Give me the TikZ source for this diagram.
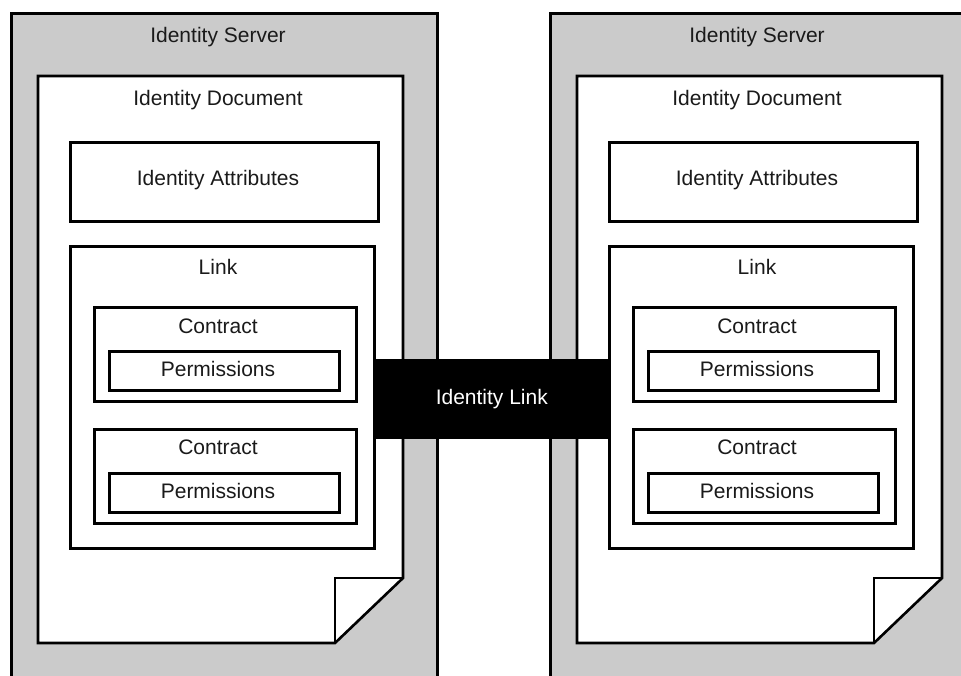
\documentclass[tikz,border=0pt]{standalone}
\usepackage{fontspec}
\setmainfont{Liberation Sans}
\usetikzlibrary{positioning, calc}
\definecolor{idsGray}{HTML}{CBCBCB}
\definecolor{idsText}{HTML}{1A1A1A}

\begin{document}
\begin{tikzpicture}[
    x=1pt, y=-1pt,
    srv/.style={
        draw=black, line width=2.6pt, fill=idsGray, anchor=north west,
        inner sep=0pt, minimum width=426pt, minimum height=700pt
    },
    box/.style={
        draw=black, line width=2.6pt, fill=white, anchor=north west,
        inner sep=0pt
    },
    docline/.style={draw=black, line width=2.6pt, fill=white, line join=miter},
    ttl/.style={font=\fontsize{21}{25}\selectfont, text=idsText, anchor=center, inner sep=0pt},
    lnk/.style={
        draw=black, fill=black, line width=1pt, minimum height=79pt,
        inner sep=0pt, font=\fontsize{21}{25}\selectfont, text=white
    }
]
\useasboundingbox (0,0) rectangle (961,675);
\clip (0,0) rectangle (961,675);

% === Servers ===
\node[srv] (srvL) at (10,12) {};
\node[srv] (srvR) at (549,12) {};

% === Documents (with folded corner) ===
\draw[docline] (38,76) -- (403,76) -- (403,578) -- (335,643) -- (38,643) -- cycle;
\draw[docline, fill=none] (335,643) -- (335,578) -- (403,578);
\draw[docline] (577,76) -- (942,76) -- (942,578) -- (874,643) -- (577,643) -- cycle;
\draw[docline, fill=none] (874,643) -- (874,578) -- (942,578);

% === Left side ===
\node[box, minimum width=308pt, minimum height=79pt] (attrL) at (69,141) {};
\node[box, minimum width=304pt, minimum height=302pt] (linkL) at (69,245) {};
\node[box, minimum width=262pt, minimum height=94pt] (conL1) at (93,306) {};
\node[box, minimum width=230pt, minimum height=39pt] (permL1) at (108,350) {};
\node[box, minimum width=262pt, minimum height=94pt] (conL2) at (93,428) {};
\node[box, minimum width=230pt, minimum height=39pt] (permL2) at (108,472) {};

\node[ttl] (srvLt) at (218,37) {Identity Server};
\node[ttl] (docLt) at (218,100) {Identity Document};
\node[ttl] (attrLt) at (218,180) {Identity Attributes};
\node[ttl] (linkLt) at (218,267) {Link};
\node[ttl] (conL1t) at (218,326) {Contract};
\node[ttl] (permL1t) at (218,369) {Permissions};
\node[ttl] (conL2t) at (218,447) {Contract};
\node[ttl] (permL2t) at (218,491) {Permissions};

% === Right side ===
\node[box, minimum width=308pt, minimum height=79pt] (attrR) at (608,141) {};
\node[box, minimum width=304pt, minimum height=302pt] (linkR) at (608,245) {};
\node[box, minimum width=262pt, minimum height=94pt] (conR1) at (632,306) {};
\node[box, minimum width=230pt, minimum height=39pt] (permR1) at (647,350) {};
\node[box, minimum width=262pt, minimum height=94pt] (conR2) at (632,428) {};
\node[box, minimum width=230pt, minimum height=39pt] (permR2) at (647,472) {};

\node[ttl] (srvRt) at (757,37) {Identity Server};
\node[ttl] (docRt) at (757,100) {Identity Document};
\node[ttl] (attrRt) at (757,180) {Identity Attributes};
\node[ttl] (linkRt) at (757,267) {Link};
\node[ttl] (conR1t) at (757,326) {Contract};
\node[ttl] (permR1t) at (757,369) {Permissions};
\node[ttl] (conR2t) at (757,447) {Contract};
\node[ttl] (permR2t) at (757,491) {Permissions};

% Identity link bar between the two Link boxes
\path let \p1=(linkL.east), \p2=(linkR.west) in
    node[lnk, minimum width=\x2-\x1] (idlink) at ($(linkL.east)!0.5!(linkR.west)+(0,1.5)$) {Identity Link};

\end{tikzpicture}
\end{document}
